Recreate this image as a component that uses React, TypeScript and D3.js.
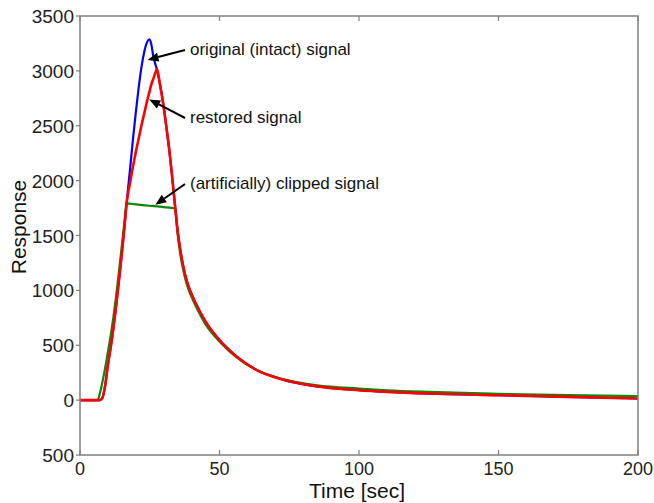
import React from 'react';
import * as d3 from 'd3';

// original (intact) signal
const origTime = [0, 6, 7, 8, 9, 10, 11, 12, 13, 14, 15, 16, 16.7, 17, 18, 19, 20, 21, 22, 23, 24, 24.8, 25.5, 26.3, 27, 27.6, 28.5, 29.9, 31, 32, 33, 34.1, 35, 36, 37, 38, 39, 40, 42, 45, 50, 56, 63, 73, 85, 100, 110, 125, 150, 175, 200];
const origValues = [0, 0, 0, 20, 130, 320, 480, 660, 870, 1100, 1340, 1600, 1792, 1870, 2120, 2380, 2620, 2840, 3030, 3170, 3260, 3287, 3250, 3130, 3060, 3010, 2900, 2688, 2480, 2280, 2040, 1760, 1540, 1360, 1220, 1110, 1030, 965, 855, 715, 547, 400, 278, 185, 125, 90, 75, 60, 45, 30, 15];

// restored signal
const restTime = [0, 6, 7, 8, 9, 10, 11, 12, 13, 14, 15, 16, 16.7, 17, 18, 19, 20, 21, 22, 23, 24, 24.8, 25.5, 26.3, 27, 27.6, 28.5, 29.9, 31, 32, 33, 34.1, 35, 36, 37, 38, 39, 40, 42, 45, 50, 56, 63, 73, 85, 100, 110, 125, 150, 175, 200];
const restValues = [0, 0, 0, 20, 130, 320, 480, 660, 870, 1100, 1340, 1600, 1792, 1850, 1990, 2130, 2260, 2380, 2500, 2610, 2720, 2800, 2870, 2930, 2980, 3016, 2900, 2688, 2480, 2280, 2040, 1760, 1540, 1360, 1220, 1110, 1030, 965, 855, 715, 547, 400, 278, 185, 125, 90, 75, 60, 45, 30, 15];

// (artificially) clipped signal
const clipTime = [0, 6.3, 7, 8, 9, 10, 11, 12, 13, 14, 15, 16, 16.7, 20, 25, 30, 34.1, 35, 36, 37, 38, 39, 40, 42, 45, 50, 56, 63, 73, 85, 100, 110, 125, 150, 175, 200];
const clipValues = [0, 0, 50, 160, 290, 440, 590, 760, 960, 1180, 1410, 1640, 1792, 1783, 1771, 1759, 1746, 1510, 1320, 1185, 1080, 1000, 940, 830, 690, 535, 392, 278, 190, 135, 105, 90, 75, 57, 45, 36];

const xTicks = [0, 50, 100, 150, 200];
const yTicks = [-500, 0, 500, 1000, 1500, 2000, 2500, 3000, 3500];
const yTickLabels = ['500', '0', '500', '1000', '1500', '2000', '2500', '3000', '3500'];

const notes = [
  { text: 'original (intact) signal', t: 24.2, v: 3100, tx: 190, ty: 55 },
  { text: 'restored signal', t: 24.8, v: 2740, tx: 190, ty: 123 },
  { text: '(artificially) clipped signal', t: 27, v: 1780, tx: 190, ty: 189 },
];

const W = 654;
const H = 503;
const left = 80, right = 638, top = 16, bottom = 455;
const font = '"Liberation Sans", Arial, Helvetica, sans-serif';

export default function App() {
  const x = d3.scaleLinear().domain([0, 200]).range([left, right]);
  const y = d3.scaleLinear().domain([-500, 3500]).range([bottom, top]);

  const mk = (ts: number[], vs: number[]) =>
    d3.line<number>().x((_, i) => x(ts[i])).y((d) => y(d)).curve(d3.curveMonotoneX)(vs) || '';

  const arrow = (n: typeof notes[0]) => {
    const x0 = n.tx - 5, y0 = n.ty - 5;
    const x1 = x(n.t), y1 = y(n.v);
    const ang = Math.atan2(y1 - y0, x1 - x0);
    const len = 11, wid = 4.5;
    const bx = x1 - len * Math.cos(ang), by = y1 - len * Math.sin(ang);
    const px = -Math.sin(ang) * wid, py = Math.cos(ang) * wid;
    return (
      <g key={n.text}>
        <line x1={x0} y1={y0} x2={bx} y2={by} stroke="#000" strokeWidth={2} />
        <polygon points={`${x1},${y1} ${bx + px},${by + py} ${bx - px},${by - py}`} fill="#000" />
      </g>
    );
  };

  return (
    <svg width={W} height={H} style={{ position: 'absolute', left: 0, top: 0, background: '#fff' }} fontFamily={font}>
      <rect x={0} y={0} width={W} height={H} fill="#fff" />
      <path d={mk(origTime, origValues)} fill="none" stroke="#0000ff" strokeWidth={2.2} />
      <path d={mk(clipTime, clipValues)} fill="none" stroke="#078a07" strokeWidth={2.2} />
      <path d={mk(restTime, restValues)} fill="none" stroke="#ff0000" strokeWidth={2.6} />

      <rect x={left} y={top} width={right - left} height={bottom - top} fill="none" stroke="#7f7f7f" strokeWidth={1.5} />
      {xTicks.map((t) => (
        <g key={'x' + t}>
          <line x1={x(t)} x2={x(t)} y1={bottom} y2={bottom - 5} stroke="#7f7f7f" strokeWidth={1.2} />
          <line x1={x(t)} x2={x(t)} y1={top} y2={top + 5} stroke="#7f7f7f" strokeWidth={1.2} />
          <text x={x(t)} y={475} textAnchor="middle" fontSize={18} fill="#222">{t}</text>
        </g>
      ))}
      {yTicks.map((v, i) => (
        <g key={'y' + v}>
          <line x1={left - 4} x2={left} y1={y(v)} y2={y(v)} stroke="#7f7f7f" strokeWidth={1.2} />
          <text x={74} y={y(v) + 7} textAnchor="end" fontSize={19} fill="#222">{yTickLabels[i]}</text>
        </g>
      ))}

      <text x={357} y={498} textAnchor="middle" fontSize={21} fill="#111">Time [sec]</text>
      <text transform={`translate(26,227) rotate(-90)`} textAnchor="middle" fontSize={21} fill="#111">Response</text>

      {notes.map(arrow)}
      {notes.map((n) => (
        <text key={'t' + n.text} x={n.tx} y={n.ty} fontSize={17} fill="#111">{n.text}</text>
      ))}
    </svg>
  );
}
